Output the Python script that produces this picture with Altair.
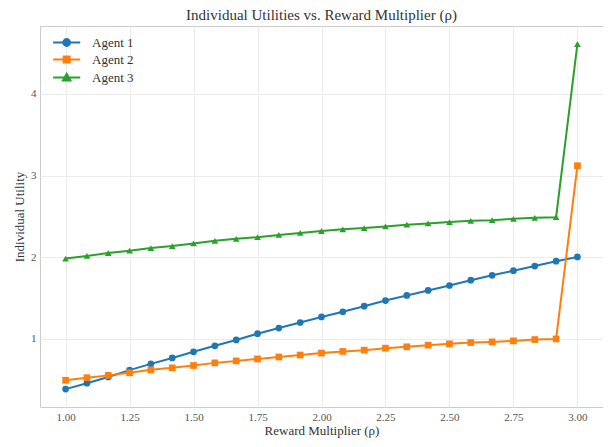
import altair as alt
import pandas as pd

rho = [1.0, 1.0833, 1.1667, 1.25, 1.3333, 1.4167, 1.5, 1.5833, 1.6667, 1.75, 1.8333, 1.9167,
       2.0, 2.0833, 2.1667, 2.25, 2.3333, 2.4167, 2.5, 2.5833, 2.6667, 2.75, 2.8333, 2.9167, 3.0]
agent1 = [0.386, 0.458, 0.534, 0.618, 0.695, 0.767, 0.843, 0.916, 0.988, 1.064, 1.133, 1.201,
          1.269, 1.333, 1.401, 1.470, 1.532, 1.594, 1.654, 1.719, 1.779, 1.835, 1.892, 1.952, 2.004]
agent2 = [0.494, 0.526, 0.554, 0.586, 0.622, 0.646, 0.675, 0.707, 0.731, 0.755, 0.779, 0.803,
          0.827, 0.847, 0.863, 0.887, 0.904, 0.924, 0.940, 0.956, 0.964, 0.976, 0.992, 1.000, 3.12]
agent3 = [1.984, 2.016, 2.052, 2.080, 2.112, 2.137, 2.169, 2.201, 2.225, 2.245, 2.273, 2.297,
          2.321, 2.341, 2.357, 2.377, 2.398, 2.414, 2.430, 2.446, 2.454, 2.470, 2.482, 2.490, 4.61]

agents = ["Agent 1", "Agent 2", "Agent 3"]
colors = ["#1f77b4", "#ff7f0e", "#2ca02c"]
marker_shapes = ["circle", "square", "triangle-up"]
legend_shapes = [
    "M-1,0L7,0M4,0A1,1,0,1,1,2,0A1,1,0,1,1,4,0Z",
    "M-1,0L7,0M2.1,-0.9H3.9V0.9H2.1Z",
    "M-1,0L7,0M3,-1.1L4.1,0.85L1.9,0.85Z",
]

rows = []
for name, vals in zip(agents, [agent1, agent2, agent3]):
    for x, y in zip(rho, vals):
        rows.append({"rho": x, "utility": y, "agent": name})
df = pd.DataFrame(rows)

FONT = "Liberation Serif"
# main marks: domain taken from the data (sorted Agent 1..3)
main_color = alt.Scale(range=colors)
# legend: explicit domain
legend_color = alt.Scale(domain=agents, range=colors)

x_enc = alt.X("rho:Q", scale=alt.Scale(domain=[0.9, 3.1], nice=False, zero=False),
              axis=alt.Axis(title="Reward Multiplier (\u03c1)", values=[1.0, 1.25, 1.5, 1.75, 2.0, 2.25, 2.5, 2.75, 3.0],
                            format=".2f"))
y_enc = alt.Y("utility:Q", scale=alt.Scale(domain=[0.167, 4.83], nice=False, zero=False),
              axis=alt.Axis(title="Individual Utility", values=[1, 2, 3, 4], format="d"))

base = alt.Chart(df)

lines = base.mark_line(strokeWidth=2).encode(
    x=x_enc, y=y_enc,
    color=alt.Color("agent:N", scale=main_color, legend=None, sort=agents),
    detail="agent:N",
)

point_layers = []
for name, shp in zip(agents, marker_shapes):
    point_layers.append(
        base.transform_filter(alt.datum.agent == name).mark_point(filled=True, size=45, opacity=1, shape=shp).encode(
            x=x_enc, y=y_enc,
            color=alt.Color("agent:N", scale=main_color, legend=None, sort=agents),
        )
    )

leg = alt.Legend(title=None, orient="top-left", offset=6, padding=4,
                 symbolSize=46, symbolStrokeWidth=2, symbolOpacity=1,
                 labelOffset=29, rowPadding=2, labelFontSize=13,
                 labelFont=FONT, labelColor="#333333")

legend_layer = base.transform_filter(alt.datum.rho < 0).mark_point(size=46, strokeWidth=2).encode(
    x=x_enc, y=y_enc,
    fill=alt.Fill("agent:N", scale=legend_color, legend=leg),
    stroke=alt.Stroke("agent:N", scale=legend_color, legend=leg),
    shape=alt.Shape("agent:N", scale=alt.Scale(domain=agents, range=legend_shapes), legend=leg),
)

chart = alt.layer(lines, *point_layers, legend_layer).properties(
    width=563, height=381,
    title=alt.Title("Individual Utilities vs. Reward Multiplier (\u03c1)", fontSize=15, font=FONT,
                    color="#333333", fontWeight="normal", anchor="middle", offset=3),
    autosize=alt.AutoSizeParams(type="none"),
    padding={"left": 32, "top": 18, "right": 0, "bottom": 32},
).configure_view(
    stroke="#cccccc", strokeWidth=1
).configure_axis(
    domain=False, ticks=False, grid=True, gridColor="#ebebeb", gridWidth=1,
    labelFont=FONT, labelFontSize=11, labelColor="#555555", labelPadding=4,
    titleFont=FONT, titleFontSize=13, titleColor="#333333", titleFontWeight="normal",
).configure_axisY(titlePadding=4).configure_axisX(titlePadding=2)

chart.save("out.html", embed_options={"renderer": "svg", "actions": False})
